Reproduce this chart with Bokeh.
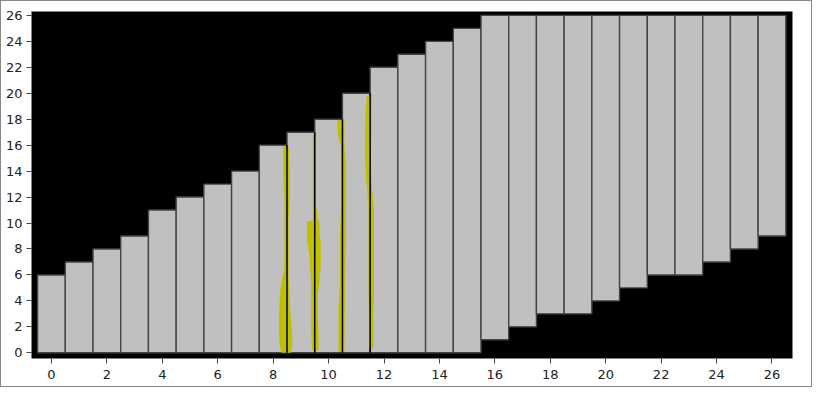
from bokeh.plotting import figure
from bokeh.models import FixedTicker, ColumnDataSource, Range1d
from bokeh.embed import file_html
from bokeh.resources import INLINE

# ---- data ----
bar_x = list(range(27))
bar_bottom = [0, 0, 0, 0, 0, 0, 0, 0, 0, 0, 0, 0, 0, 0, 0, 0,
              1, 2, 3, 3, 4, 5, 6, 6, 7, 8, 9]
bar_top = [6, 7, 8, 9, 11, 12, 13, 14, 16, 17, 18, 20, 22, 23, 24, 25,
           26, 26, 26, 26, 26, 26, 26, 26, 26, 26, 26]

violin_pos = [8.5, 9.5, 10.5, 11.5]
violin_top = [16, 17, 18, 20]

vA_y = [0, 0.6, 1.5, 2.6, 3.7, 4.8, 5.7, 6.5, 8.5, 10.3, 11.5, 14, 15.9]
vA_left = [0.2, 0.26, 0.29, 0.29, 0.27, 0.24, 0.18, 0.1, 0.09, 0.09, 0.09, 0.14, 0.14]
vA_right = [0.14, 0.19, 0.19, 0.14, 0.1, 0.08, 0.06, 0.06, 0.06, 0.06, 0.09, 0.09, 0.06]

vB_y = [0.2, 1.5, 3, 4.5, 5.5, 6.8, 7.8, 8.6, 9.2, 10.1, 10.2, 11.4, 14, 16.8]
vB_left = [0.09, 0.13, 0.13, 0.13, 0.13, 0.17, 0.21, 0.28, 0.28, 0.28, 0.07, 0.07, 0.07, 0.07]
vB_right = [0.14, 0.14, 0.11, 0.11, 0.17, 0.22, 0.22, 0.22, 0.17, 0.17, 0.12, 0.05, 0.05, 0.05]

vC_y = [0.1, 3.6, 4.8, 8.5, 11, 14.7, 16, 16.7, 17.9]
vC_left = [0.14, 0.14, 0.1, 0.1, 0.06, 0.06, 0.06, 0.15, 0.2]
vC_right = [0.07, 0.09, 0.09, 0.12, 0.12, 0.12, 0.07, 0.07, 0.07]

vD_y = [0.35, 3.1, 4.3, 11, 12.4, 13.4, 15.4, 18.4, 19.8]
vD_left = [0.04, 0.05, 0.06, 0.06, 0.1, 0.15, 0.19, 0.17, 0.12]
vD_right = [0.12, 0.12, 0.14, 0.14, 0.08, 0.04, 0.03, 0.05, 0.06]

ticks = list(range(0, 27, 2))

# ---- figure ----
p = figure(width=812, height=387, output_backend="svg", toolbar_location=None,
           x_range=Range1d(-0.72, 26.74), y_range=Range1d(-0.44, 26.3),
           min_border_left=30, min_border_right=21, min_border_top=10, min_border_bottom=30)
p.background_fill_color = "black"
p.border_fill_color = "white"
p.outline_line_color = None
p.grid.visible = False
p.styles = {"border": "1px solid #888"}

src = ColumnDataSource(dict(x=bar_x, bottom=bar_bottom, top=bar_top))
p.vbar(x="x", bottom="bottom", top="top", width=1.0, source=src,
       fill_color="#c0c0c0", line_color="#444444", line_width=1.4)

violins = [(vA_y, vA_left, vA_right), (vB_y, vB_left, vB_right),
           (vC_y, vC_left, vC_right), (vD_y, vD_left, vD_right)]
for c, (ys, lw, rw) in zip(violin_pos, violins):
    p.harea(y=ys, x1=[c - v for v in lw], x2=[c + v for v in rw],
            fill_color="#bfbf00")
p.segment(x0=violin_pos, y0=[0] * 4, x1=violin_pos, y1=violin_top,
          line_color="black", line_width=1.5)

for ax in (p.xaxis[0], p.yaxis[0]):
    ax.ticker = FixedTicker(ticks=ticks)
    ax.axis_line_color = None
    ax.major_tick_line_color = "#444"
    ax.major_tick_in = 0
    ax.major_tick_out = 5
    ax.minor_tick_line_color = None
    ax.major_label_text_font = "DejaVu Sans"
    ax.major_label_text_font_size = "13px"
    ax.major_label_text_color = "#222"
p.xaxis.major_label_standoff = 6
p.yaxis.major_label_standoff = 4

open("out.html", "w").write(file_html(p, INLINE))
